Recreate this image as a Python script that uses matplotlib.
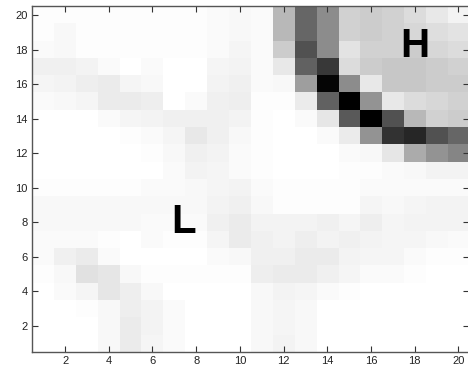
import numpy as np
import matplotlib.pyplot as plt

# grid cells 1..20 along each axis
x_cells = np.arange(1, 21)
y_cells = np.arange(1, 21)

# intensity per cell, 0 = white, 1 = black; rows listed from y=20 down to y=1
grid_rows = [
    [0.01,0.01,0.01,0.01,0.01, 0.01,0.01,0.01,0.02,0.03, 0.02,0.28,0.60,0.45,0.18, 0.20,0.18,0.14,0.09,0.05],
    [0.01,0.03,0.01,0.01,0.01, 0.01,0.01,0.01,0.02,0.03, 0.02,0.28,0.60,0.45,0.18, 0.20,0.18,0.16,0.13,0.11],
    [0.02,0.03,0.01,0.01,0.01, 0.01,0.01,0.01,0.02,0.04, 0.02,0.20,0.68,0.45,0.11, 0.18,0.18,0.20,0.16,0.14],
    [0.06,0.06,0.05,0.02,0.00, 0.02,0.00,0.00,0.04,0.05, 0.02,0.09,0.62,0.78,0.14, 0.20,0.22,0.22,0.20,0.18],
    [0.04,0.05,0.07,0.08,0.04, 0.03,0.00,0.00,0.05,0.06, 0.02,0.03,0.38,0.98,0.45, 0.09,0.22,0.22,0.20,0.20],
    [0.02,0.03,0.04,0.08,0.08, 0.07,0.00,0.02,0.06,0.07, 0.01,0.01,0.08,0.62,1.00, 0.42,0.09,0.14,0.16,0.18],
    [0.00,0.00,0.00,0.02,0.04, 0.05,0.06,0.06,0.06,0.05, 0.01,0.00,0.02,0.10,0.65, 1.00,0.68,0.28,0.18,0.20],
    [0.00,0.00,0.00,0.00,0.01, 0.02,0.04,0.09,0.06,0.03, 0.01,0.00,0.00,0.02,0.08, 0.42,0.80,0.85,0.68,0.60],
    [0.00,0.00,0.00,0.00,0.00, 0.01,0.03,0.06,0.05,0.02, 0.01,0.00,0.00,0.00,0.02, 0.03,0.10,0.33,0.42,0.48],
    [0.00,0.00,0.00,0.00,0.00, 0.00,0.02,0.05,0.04,0.02, 0.01,0.00,0.00,0.00,0.01, 0.01,0.02,0.03,0.05,0.05],
    [0.01,0.01,0.01,0.01,0.01, 0.02,0.02,0.03,0.04,0.05, 0.02,0.01,0.01,0.01,0.01, 0.02,0.02,0.02,0.02,0.02],
    [0.03,0.03,0.03,0.03,0.03, 0.03,0.03,0.03,0.05,0.06, 0.03,0.01,0.01,0.01,0.01, 0.04,0.03,0.04,0.05,0.05],
    [0.03,0.03,0.03,0.03,0.03, 0.02,0.02,0.02,0.06,0.08, 0.05,0.05,0.05,0.06,0.04, 0.07,0.04,0.05,0.05,0.05],
    [0.02,0.02,0.02,0.01,0.00, 0.02,0.01,0.01,0.04,0.08, 0.06,0.05,0.07,0.05,0.06, 0.05,0.04,0.04,0.03,0.02],
    [0.02,0.06,0.08,0.02,0.00, 0.00,0.00,0.00,0.02,0.03, 0.06,0.06,0.08,0.08,0.05, 0.04,0.04,0.02,0.01,0.01],
    [0.01,0.03,0.12,0.10,0.03, 0.01,0.01,0.01,0.01,0.01, 0.07,0.08,0.08,0.06,0.04, 0.02,0.02,0.01,0.00,0.00],
    [0.00,0.02,0.04,0.10,0.07, 0.03,0.00,0.00,0.00,0.00, 0.03,0.05,0.04,0.02,0.01, 0.00,0.00,0.00,0.00,0.00],
    [0.00,0.00,0.01,0.03,0.07, 0.05,0.02,0.00,0.00,0.00, 0.03,0.04,0.03,0.00,0.00, 0.00,0.00,0.00,0.00,0.00],
    [0.00,0.00,0.00,0.03,0.08, 0.05,0.02,0.00,0.00,0.00, 0.03,0.04,0.03,0.00,0.00, 0.00,0.00,0.00,0.00,0.00],
    [0.00,0.00,0.00,0.03,0.08, 0.04,0.02,0.00,0.00,0.00, 0.03,0.05,0.03,0.00,0.00, 0.00,0.00,0.00,0.00,0.00],
]

# region labels and where they sit
labels = ["L", "H"]
label_x = [7.4, 18.0]
label_y = [8.0, 18.2]

tick_vals = [2, 4, 6, 8, 10, 12, 14, 16, 18, 20]

grid = np.array(grid_rows)

fig = plt.figure(figsize=(4.68, 3.73), dpi=100)
ax = fig.add_axes([0.069, 0.0574, 0.934, 0.9255])

ax.imshow(grid, cmap="gray_r", vmin=0, vmax=1, interpolation="nearest",
          origin="upper", aspect="auto",
          extent=(x_cells[0] - 0.5, x_cells[-1] + 0.5,
                  y_cells[0] - 0.5, y_cells[-1] + 0.5))

for txt, lx, ly in zip(labels, label_x, label_y):
    ax.text(lx, ly, txt, fontsize=29, fontweight="bold", color="black",
            family="Liberation Sans", ha="center", va="center")

ax.set_xticks(tick_vals)
ax.set_yticks(tick_vals)
ax.tick_params(direction="in", length=4, width=0.8, color="#333333",
               top=True, right=True, labelsize=8, labelcolor="#222222")
for lab in ax.get_xticklabels() + ax.get_yticklabels():
    lab.set_family("Liberation Sans")
for s in ax.spines.values():
    s.set_color("#555555")
    s.set_linewidth(1.0)

fig.savefig("out.png", dpi=100)
